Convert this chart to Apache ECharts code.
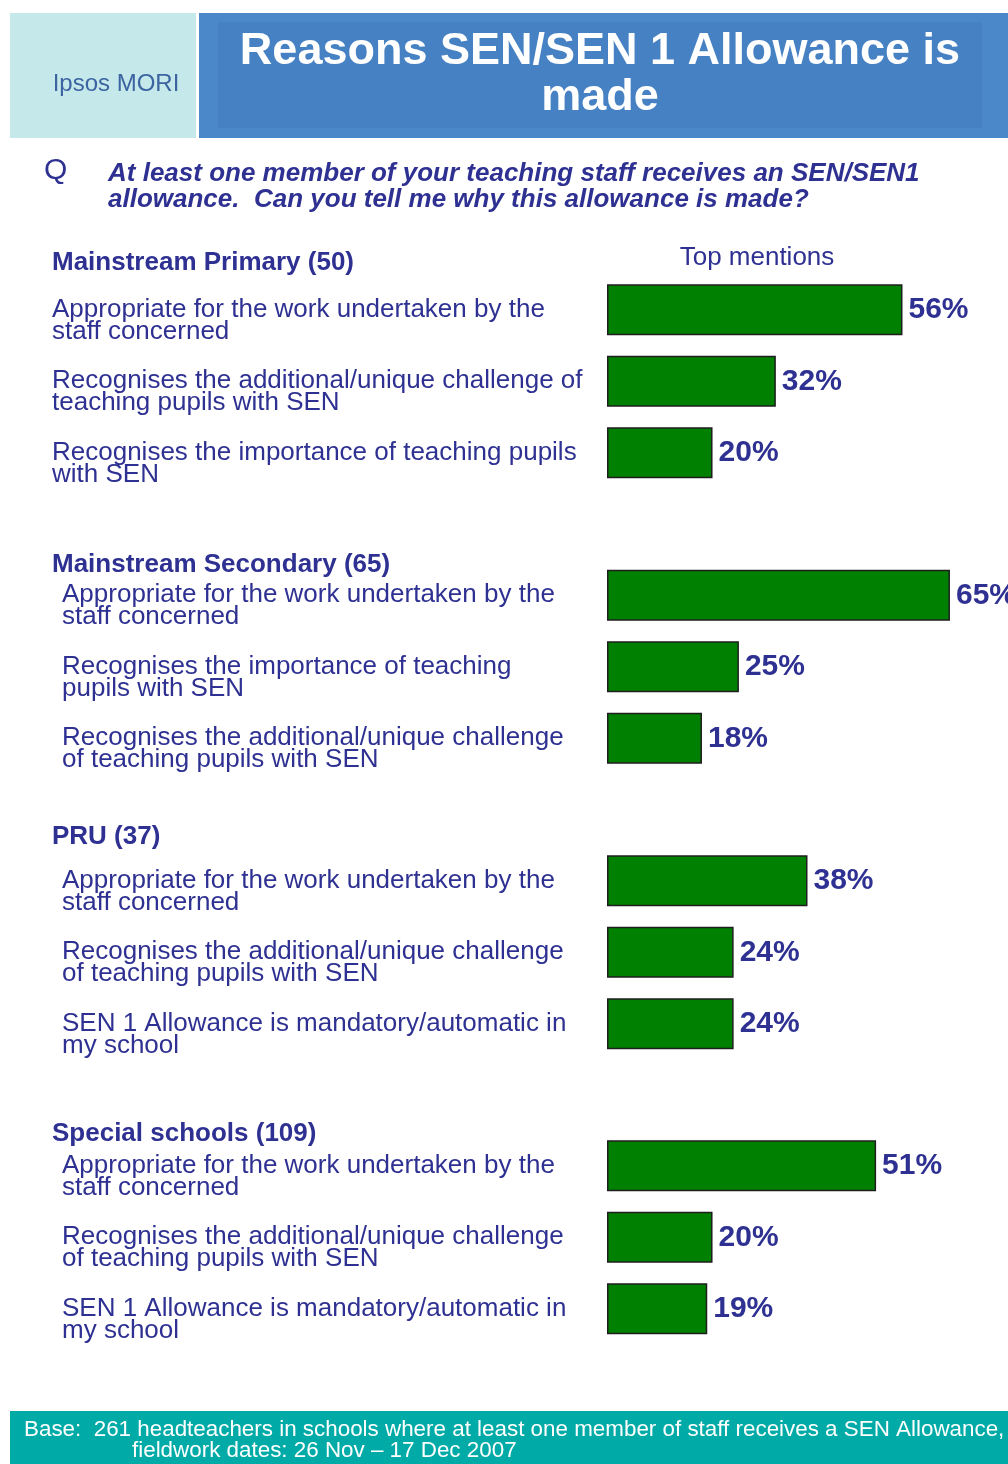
<!DOCTYPE html>
<html lang="en">
<head>
<meta charset="UTF-8">
<title>Reasons SEN/SEN 1 Allowance is made</title>
<style>
  html, body { margin: 0; padding: 0; background: #fff; }
  #chart-container { width: 1008px; height: 1464px; }
</style>
</head>
<body>
<div id="chart-container"></div>
<script src="https://cdn.jsdelivr.net/npm/echarts@6/dist/echarts.min.js"></script>
<script>
// data
const groupNames = ['Mainstream Primary (50)', 'Mainstream Secondary (65)', 'PRU (37)', 'Special schools (109)'];

const primaryReasons = [
  'Appropriate for the work undertaken by the\nstaff concerned',
  'Recognises the additional/unique challenge of\nteaching pupils with SEN',
  'Recognises the importance of teaching pupils\nwith SEN'
];
const primaryValues = [56, 32, 20];

const secondaryReasons = [
  'Appropriate for the work undertaken by the\nstaff concerned',
  'Recognises the importance of teaching\npupils with SEN',
  'Recognises the additional/unique challenge\nof teaching pupils with SEN'
];
const secondaryValues = [65, 25, 18];

const pruReasons = [
  'Appropriate for the work undertaken by the\nstaff concerned',
  'Recognises the additional/unique challenge\nof teaching pupils with SEN',
  'SEN 1 Allowance is mandatory/automatic in\nmy school'
];
const pruValues = [38, 24, 24];

const specialReasons = [
  'Appropriate for the work undertaken by the\nstaff concerned',
  'Recognises the additional/unique challenge\nof teaching pupils with SEN',
  'SEN 1 Allowance is mandatory/automatic in\nmy school'
];
const specialValues = [51, 20, 19];

const navy = '#2e3192';
const font = 'Liberation Sans, Arial, sans-serif';

const groups = [
  { reasons: primaryReasons, values: primaryValues, top: 274, labelX: 52, headY: 263 },
  { reasons: secondaryReasons, values: secondaryValues, top: 559.5, labelX: 62, headY: 565 },
  { reasons: pruReasons, values: pruValues, top: 845, labelX: 62, headY: 837 },
  { reasons: specialReasons, values: specialValues, top: 1130, labelX: 62, headY: 1134 }
];

const barLeft = 607;

var dom = document.getElementById('chart-container');
var myChart = echarts.init(dom, null, { renderer: 'canvas' });

var grids = [], xAxes = [], yAxes = [], series = [];
groups.forEach(function (g, i) {
  grids.push({ left: barLeft, width: 401, top: g.top, height: 214.5, containLabel: false });
  xAxes.push({ type: 'value', gridIndex: i, min: 0, max: 76, show: false });
  yAxes.push({
    type: 'category',
    gridIndex: i,
    inverse: true,
    data: g.reasons,
    axisLine: { show: false },
    axisTick: { show: false },
    axisLabel: {
      interval: 0,
      align: 'left',
      margin: barLeft - g.labelX,
      color: navy,
      fontFamily: font,
      fontSize: 26,
      lineHeight: 22,
      // leading blank line pushes the first text line onto the bar centre
      formatter: function (v) { return '\n' + v; }
    }
  });
  series.push({
    type: 'bar',
    xAxisIndex: i,
    yAxisIndex: i,
    barWidth: 51,
    data: g.values,
    itemStyle: { color: '#008000', borderColor: '#1e1e1e', borderWidth: 1.5 },
    label: {
      show: true,
      position: 'right',
      distance: 6,
      formatter: '{c}%',
      color: navy,
      fontFamily: font,
      fontWeight: 'bold',
      fontSize: 30
    },
    silent: true
  });
});

var graphics = [
  { type: 'rect', shape: { x: 10, y: 13, width: 186, height: 125 }, style: { fill: '#c5e8ea' } },
  { type: 'rect', shape: { x: 199, y: 13, width: 809, height: 125 }, style: { fill: '#4b88ca' } },
  { type: 'rect', shape: { x: 218, y: 22, width: 764, height: 106 }, style: { fill: '#4581c3' } },
  { type: 'text', style: { x: 116, y: 84, text: 'Ipsos MORI', font: '24px ' + font, fill: '#3b64a0', align: 'center', verticalAlign: 'middle' } },
  { type: 'text', style: { x: 600, y: 52, text: 'Reasons SEN/SEN 1 Allowance is', font: 'bold 45px ' + font, fill: '#fff', align: 'center', verticalAlign: 'middle' } },
  { type: 'text', style: { x: 600, y: 98, text: 'made', font: 'bold 45px ' + font, fill: '#fff', align: 'center', verticalAlign: 'middle' } },
  { type: 'text', style: { x: 44, y: 171, text: 'Q', font: '30px ' + font, fill: navy, verticalAlign: 'middle' } },
  { type: 'text', style: { x: 108, y: 174, text: 'At least one member of your teaching staff receives an SEN/SEN1', font: 'italic bold 26px ' + font, fill: navy, verticalAlign: 'middle' } },
  { type: 'text', style: { x: 108, y: 200, text: 'allowance.  Can you tell me why this allowance is made?', font: 'italic bold 26px ' + font, fill: navy, verticalAlign: 'middle' } },
  { type: 'text', style: { x: 757, y: 258, text: 'Top mentions', font: '26px ' + font, fill: navy, align: 'center', verticalAlign: 'middle' } },
  { type: 'rect', shape: { x: 10, y: 1411, width: 998, height: 53 }, style: { fill: '#00aba7' } },
  { type: 'text', style: { x: 24, y: 1430, text: 'Base:  261 headteachers in schools where at least one member of staff receives a SEN Allowance,', font: '22.4px ' + font, fill: '#fff', verticalAlign: 'middle' } },
  { type: 'text', style: { x: 132, y: 1451, text: 'fieldwork dates: 26 Nov \u2013 17 Dec 2007', font: '22.4px ' + font, fill: '#fff', verticalAlign: 'middle' } }
];
groups.forEach(function (g, i) {
  graphics.push({ type: 'text', style: { x: 52, y: g.headY, text: groupNames[i], font: 'bold 26px ' + font, fill: navy, verticalAlign: 'middle' } });
});

var option = {
  animation: false,
  backgroundColor: '#ffffff',
  grid: grids,
  xAxis: xAxes,
  yAxis: yAxes,
  series: series,
  graphic: graphics
};

myChart.setOption(option);
window.addEventListener('resize', myChart.resize);
</script>
</body>
</html>
